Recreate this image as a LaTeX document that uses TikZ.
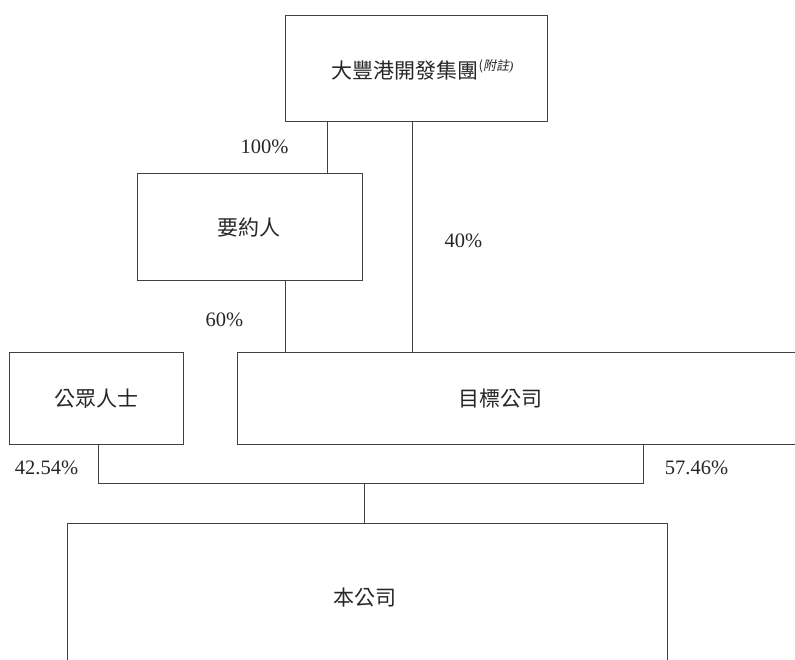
\documentclass[tikz,border=0pt]{standalone}
\usepackage{fontspec}
\setmainfont{Liberation Serif}
\newfontfamily\cjk{Noto Sans CJK TC}
\newfontfamily\cjkit[FakeSlant=0.2]{Noto Sans CJK TC}
\begin{document}
\begin{tikzpicture}[x=1pt,y=-1pt,
  box/.style={draw=black!75, line width=1.5pt, inner sep=0pt, outer sep=0pt, anchor=north west},
  link/.style={draw=black!75, line width=1.5pt},
  lbl/.style={text=black!85, inner sep=0pt, font=\cjk\fontsize{21}{24}\selectfont},
  pct/.style={text=black!85, inner sep=0pt, font=\fontsize{20.5}{24}\selectfont}]
\useasboundingbox (-0.5,-0.5) rectangle (794.5,659.5);
% boxes
\node[box, minimum width=262pt, minimum height=106pt] (top) at (285,15) {};
\node[box, minimum width=225pt, minimum height=107pt] (offer) at (137,173) {};
\node[box, minimum width=174pt, minimum height=92pt] (pub) at (9,352) {};
\node[box, minimum width=600pt, minimum height=92pt] (tgt) at (237,352) {};
\node[box, minimum width=600pt, minimum height=200pt] (co) at (67,523) {};
% labels
\node[lbl] (topl) at (422,69) {大豐港開發集團\raisebox{8pt}{\fontsize{13}{14}\selectfont\itshape(\cjkit 附註\rmfamily\itshape)}};
\node[lbl] (offerl) at (248,227) {要約人};
\node[lbl] (publ) at (96,398) {公眾人士};
\node[lbl] (tgtl) at (500,398) {目標公司};
\node[lbl] (col) at (364,597) {本公司};
% percentages
\node[pct] (p100) at (264,146) {100\%};
\node[pct] (p40) at (463,240) {40\%};
\node[pct] (p60) at (224,319) {60\%};
\node[pct] (p4254) at (46,467) {42.54\%};
\node[pct] (p5746) at (696,467) {57.46\%};
% connectors
\coordinate (a1) at (327,121);
\coordinate (a2) at (327,173);
\draw[link] (a1) -- (a2);
\coordinate (b1) at (412,121);
\coordinate (b2) at (412,352);
\draw[link] (b1) -- (b2);
\coordinate (c1) at (285,280);
\coordinate (c2) at (285,352);
\draw[link] (c1) -- (c2);
\coordinate (d1) at (98,444);
\coordinate (d2) at (98,483);
\coordinate (d3) at (643,483);
\coordinate (d4) at (643,444);
\draw[link] (d1) -- (d2) -- (d3) -- (d4);
\coordinate (e1) at (364,483);
\coordinate (e2) at (364,523);
\draw[link] (e1) -- (e2);
\end{tikzpicture}
\end{document}
